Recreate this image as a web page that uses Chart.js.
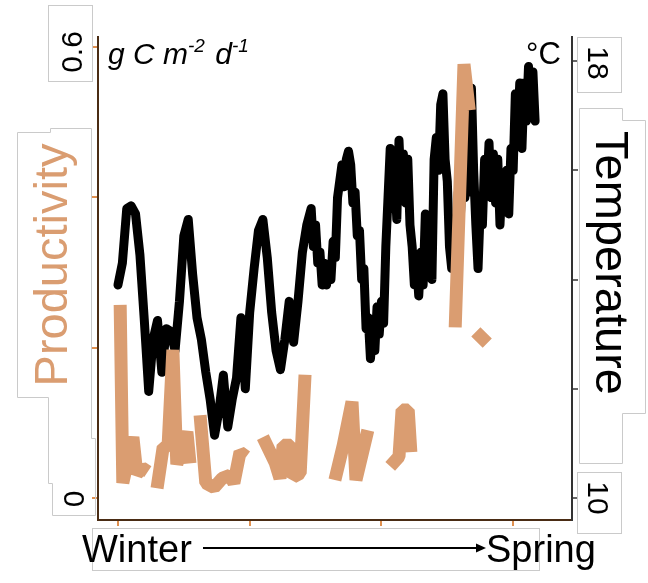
<!DOCTYPE html>
<html lang="en">
<head>
  <meta charset="UTF-8">
  <title>Productivity and Temperature</title>
  <script src="https://cdn.jsdelivr.net/npm/chart.js"></script>
  <style>
    body { margin: 0; background: #fff; }
    canvas { display: block; }
  </style>
</head>
<body>
  <canvas id="prodChart" width="648" height="583"></canvas>

  <script>
    // temperature readings (day, deg C)
    const tempDays = [
      0, 1, 2, 3, 4, 5, 6, 7, 8, 9, 10, 11, 12, 13, 14, 15, 16, 17, 18, 19,
      20, 21, 22, 23, 24, 25, 26, 27, 28, 29, 30, 31, 32, 33, 34, 35, 36, 37, 38, 39,
      40, 41, 42, 43, 44, 44.5, 45, 45.5, 46, 46.5, 47, 47.5, 48, 48.5, 49, 49.5,
      50, 51, 51.5, 52, 52.5, 53, 53.5, 54, 54.5, 55, 55.5, 56, 56.5, 57, 57.5,
      58, 58.5, 59, 59.5, 60, 60.5, 61, 61.5, 62, 62.5, 63, 63.5, 64, 64.5,
      65, 65.5, 66, 66.5, 67, 67.5, 68, 68.5, 69, 69.5, 70, 70.5, 71, 71.5,
      72, 72.5, 73, 73.5, 74, 74.5, 75, 75.5, 76, 76.5, 77, 77.5, 78, 78.5,
      79, 79.5, 80, 80.5, 81, 81.5, 82, 82.5, 83, 83.5, 84, 84.5, 85, 85.5,
      86, 86.5, 87, 87.5, 88, 88.5, 89, 89.5, 90, 90.5, 91, 91.5, 92, 92.5,
      93, 93.5, 94, 94.5, 95
    ];
    const tempValues = [
      13.9, 14.3, 15.3, 15.35, 15.2, 14.45, 13.25, 11.95, 12.9, 13.25, 12.3, 13.1, 13.05, 12.7, 13.6, 14.8, 15.1, 14.1, 13.3, 12.9,
      12.3, 11.8, 11.15, 11.6, 12.25, 11.3, 11.8, 12.2, 13.3, 12.0, 13.4, 14.2, 14.9, 15.1, 14.4, 13.4, 12.7, 12.35, 12.9, 13.6,
      12.85, 13.6, 14.5, 15.0, 15.3, 14.6, 15.0, 14.3, 14.5, 13.9, 14.3, 13.9, 14.2, 14.0, 14.7, 14.4,
      15.5, 16.1, 15.7, 16.2, 16.35, 16.1, 15.4, 15.6, 14.8, 14.9, 14.0, 14.2, 13.1, 13.3, 12.55,
      13.0, 12.7, 13.5, 13.0, 13.6, 13.2, 14.6, 15.5, 16.4, 15.3, 16.0, 15.1, 16.55, 15.6,
      16.3, 15.4, 16.2, 15.0, 14.6, 13.9, 14.3, 13.7, 14.5, 13.9, 15.2, 14.4, 15.0, 14.0,
      16.2, 16.6, 16.0, 17.2, 17.4, 16.2, 15.8, 14.6, 14.2, 15.0, 14.5, 15.6, 15.2, 16.0,
      15.5, 16.4, 15.6, 17.5, 16.0, 15.0, 14.2, 15.3, 15.0, 16.2, 15.6, 16.5, 15.5, 16.3,
      15.4, 16.2, 15.0, 15.9, 15.3, 16.0, 15.2, 16.4, 16.0, 17.4, 16.6, 17.6, 16.4, 17.6,
      16.9, 17.9, 17.0, 17.8, 16.9
    ];

    // productivity samples (g C m-2 d-1), null = no data
    const prodDays = [
      0.5, 1.1, 3.4, 4.3, 5.5, 6.8, 7.5,
      8.9, 10.3, 11.4, 12.5, 13.4, 15.7, 16.4, 17.5,
      18.7, 20.0, 21.9, 23.7, 25.5, 26.4, 27.8, 29.2, 31,
      33.0, 35.8, 36.9, 37.6, 39.4, 39.9, 41.5, 42.6, 46,
      49.4, 51.3, 53.3, 54.2, 56.9, 59,
      62.0, 64.0, 64.7, 66.1, 66.7, 70,
      76.8, 78.8, 80.0, 80.6,
      81.5, 84.1
    ];
    const prodValues = [
      0.257, 0.02, 0.081, 0.032, 0.04, 0.035, null,
      0.013, 0.068, 0.068, 0.197, 0.045, 0.088, 0.046, null,
      0.11, 0.02, 0.014, 0.026, 0.03, 0.02, 0.061, 0.055, null,
      0.081, 0.047, 0.026, 0.07, 0.07, 0.028, 0.033, 0.164, null,
      0.024, 0.07, 0.128, 0.024, 0.09, null,
      0.042, 0.055, 0.117, 0.117, 0.061, null,
      0.227, 0.577, 0.516, null,
      0.221, 0.206
    ];

    const dayTicks = [0, 30, 60, 90];
    const prodTicks = [0, 0.2, 0.4, 0.6];
    const tempTicks = [10, 12, 14, 16, 18];

    const ORANGE = '#da9d71';
    const FONT = '"Liberation Sans", Arial, sans-serif';

    function rotText(ctx, text, x, y, angle, font, color) {
      ctx.save();
      ctx.translate(x, y);
      ctx.rotate(angle);
      ctx.font = font;
      ctx.fillStyle = color;
      ctx.textAlign = 'center';
      ctx.textBaseline = 'alphabetic';
      ctx.fillText(text, 0, 0);
      ctx.restore();
    }

    function poly(ctx, pts) {
      ctx.beginPath();
      ctx.moveTo(pts[0][0], pts[0][1]);
      pts.slice(1).forEach(p => ctx.lineTo(p[0], p[1]));
      ctx.closePath();
      ctx.stroke();
    }

    const decorations = {
      id: 'decorations',
      afterDraw(chart) {
        const ctx = chart.ctx;
        const yL = chart.scales.y, yR = chart.scales.yT;

        // text box outlines
        ctx.save();
        ctx.strokeStyle = '#cacaca';
        ctx.lineWidth = 1;
        ctx.strokeRect(48.5, 5.5, 44, 76);
        poly(ctx, [[17.5, 132.5], [50.5, 132.5], [50.5, 128.5], [91.5, 128.5], [91.5, 438.5], [95.5, 438.5],
                   [95.5, 515.5], [52.5, 515.5], [52.5, 483.5], [48.5, 483.5], [48.5, 397.5], [17.5, 397.5]]);
        ctx.strokeRect(577.5, 37.5, 44, 55);
        poly(ctx, [[579.5, 108.5], [622.5, 108.5], [622.5, 120.5], [645.5, 120.5], [645.5, 413.5],
                   [622.5, 413.5], [622.5, 463.5], [579.5, 463.5]]);
        ctx.strokeRect(577.5, 472.5, 44, 61);
        ctx.strokeRect(92.5, 528.5, 447, 42);
        ctx.restore();

        // tick labels
        const tf = '30px ' + FONT;
        rotText(ctx, '0.6', 82, yL.getPixelForValue(0.6) + 5, -Math.PI / 2, tf, '#000');
        rotText(ctx, '0', 84, yL.getPixelForValue(0) + 1, -Math.PI / 2, tf, '#000');
        rotText(ctx, '18', 588, yR.getPixelForValue(18) + 2, Math.PI / 2, tf, '#000');
        rotText(ctx, '10', 588, yR.getPixelForValue(10), Math.PI / 2, tf, '#000');

        // axis titles
        rotText(ctx, 'Productivity', 67, 265, -Math.PI / 2, '47px ' + FONT, ORANGE);
        rotText(ctx, 'Temperature', 596, 263, Math.PI / 2, '47px ' + FONT, '#000');

        // units
        ctx.save();
        ctx.fillStyle = '#000';
        ctx.textBaseline = 'alphabetic';
        ctx.textAlign = 'left';
        let x = 108;
        const parts = [['g C m', 30, 0], ['-2', 19, -12], [' d', 30, 0], ['-1', 19, -12]];
        parts.forEach(([t, s, dy]) => {
          ctx.font = 'italic ' + s + 'px ' + FONT;
          ctx.fillText(t, x, 64 + dy);
          x += ctx.measureText(t).width + (s < 30 ? 2 : 0);
        });
        ctx.font = '31px ' + FONT;
        ctx.fillText('°C', 526, 64);

        // season arrow
        ctx.font = '38px ' + FONT;
        ctx.fillText('Winter', 82, 562);
        ctx.fillText('Spring', 486, 562);
        ctx.strokeStyle = '#000';
        ctx.lineWidth = 2;
        ctx.beginPath();
        ctx.moveTo(203, 548);
        ctx.lineTo(478, 548);
        ctx.stroke();
        ctx.beginPath();
        ctx.moveTo(486, 548);
        ctx.lineTo(476, 543.5);
        ctx.lineTo(476, 552.5);
        ctx.closePath();
        ctx.fill();
        ctx.restore();
      }
    };

    new Chart(document.getElementById('prodChart').getContext('2d'), {
      type: 'line',
      data: {
        datasets: [
          {
            label: 'Productivity',
            data: prodDays.map((d, i) => ({ x: d, y: prodValues[i] })),
            yAxisID: 'y',
            borderColor: ORANGE,
            borderWidth: 13,
            borderJoinStyle: 'bevel',
            pointRadius: 0,
            spanGaps: false,
            order: 0
          },
          {
            label: 'Temperature',
            data: tempDays.map((d, i) => ({ x: d, y: tempValues[i] })),
            yAxisID: 'yT',
            borderColor: '#000',
            borderWidth: 9,
            borderCapStyle: 'round',
            borderJoinStyle: 'round',
            pointRadius: 0,
            order: 1
          }
        ]
      },
      options: {
        responsive: false,
        animation: false,
        layout: { padding: { left: 92, right: 70, top: 37, bottom: 57 } },
        plugins: { legend: { display: false }, tooltip: { enabled: false } },
        scales: {
          x: {
            type: 'linear', min: -4.55, max: 103.4,
            afterBuildTicks: s => { s.ticks = dayTicks.map(v => ({ value: v })); },
            ticks: { display: false },
            grid: { drawOnChartArea: false, tickLength: 6, color: '#e0904f', lineWidth: 2 },
            border: { color: '#4a2c14', width: 2 }
          },
          y: {
            position: 'left', min: -0.0293, max: 0.6133,
            afterBuildTicks: s => { s.ticks = prodTicks.map(v => ({ value: v })); },
            ticks: { display: false },
            grid: { drawOnChartArea: false, tickLength: 6, color: '#e0904f', lineWidth: 2 },
            border: { color: '#4a2c14', width: 2 }
          },
          yT: {
            position: 'right', min: 9.597, max: 18.44,
            afterBuildTicks: s => { s.ticks = tempTicks.map(v => ({ value: v })); },
            ticks: { display: false },
            grid: { drawOnChartArea: false, tickLength: 6, color: '#666', lineWidth: 2 },
            border: { color: '#333', width: 2 }
          }
        }
      },
      plugins: [decorations]
    });
  </script>
</body>
</html>
